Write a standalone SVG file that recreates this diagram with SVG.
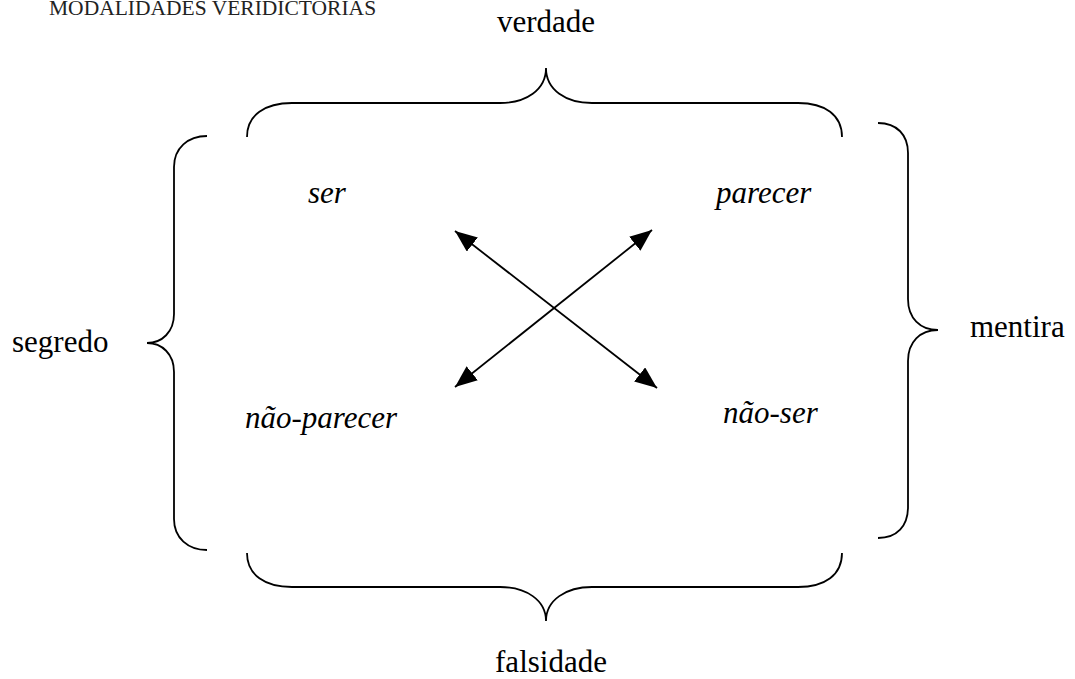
<svg xmlns="http://www.w3.org/2000/svg" width="1075" height="679" viewBox="0 0 1075 679">
<style>
.t{font-family:"Liberation Serif","Times New Roman",serif;font-size:31px;fill:#000}
.i{font-style:italic}
.title{font-family:"Liberation Serif","Times New Roman",serif;font-size:21.5px;fill:#222}
.brace{fill:none;stroke:#000;stroke-width:1.8}
.arr{stroke:#000;stroke-width:1.8;fill:none}
</style>
<defs>
<marker id="ah" markerUnits="userSpaceOnUse" markerWidth="24" markerHeight="20" refX="22" refY="9" orient="auto-start-reverse" viewBox="0 0 24 20">
<path d="M0,0 L22,9 L0,18 z" fill="#000"/>
</marker>
</defs>
<rect width="1075" height="679" fill="#fff"/>
<text class="title" x="49" y="14.6">MODALIDADES VERIDICTORIAS</text>
<g id="top-brace"><path class="brace" d="M247,137 C247,115 265,103 292,103 L500,103 C526,103 546,90 546,68 C546,90 566,103 592,103 L798,103 C825,103 842,115 842,137"/><text class="t" x="546" y="32" text-anchor="middle">verdade</text></g>
<g id="bottom-brace"><path class="brace" d="M247,553 C247,575 265,587 292,587 L500,587 C526,587 546,600 546,621 C546,600 566,587 592,587 L798,587 C825,587 842,575 842,553"/><text class="t" x="551" y="672" text-anchor="middle">falsidade</text></g>
<g id="left-brace"><path class="brace" d="M207,136 C188,136 174,148 174,167 L174,314 C174,332 162,343 147,343 C162,343 174,354 174,372 L174,519 C174,538 188,550 207,550"/><text class="t" x="12" y="352">segredo</text></g>
<g id="right-brace"><path class="brace" d="M878,123 C897,123 908,135 908,153 L908,299 C908,318 920,330 938,330 C920,330 908,342 908,361 L908,507 C908,526 897,538 878,538"/><text class="t" x="970" y="337">mentira</text></g>
<g id="ser"><text class="t i" x="308" y="203">ser</text></g>
<g id="parecer"><text class="t i" x="716" y="203">parecer</text></g>
<g id="nao-parecer"><text class="t i" x="245" y="428">não-parecer</text></g>
<g id="nao-ser"><text class="t i" x="723" y="423">não-ser</text></g>
<g id="connectors">
<line class="arr" x1="455" y1="231" x2="657" y2="388" marker-start="url(#ah)" marker-end="url(#ah)"/>
<line class="arr" x1="652" y1="230" x2="455" y2="387" marker-start="url(#ah)" marker-end="url(#ah)"/>
</g>
</svg>
